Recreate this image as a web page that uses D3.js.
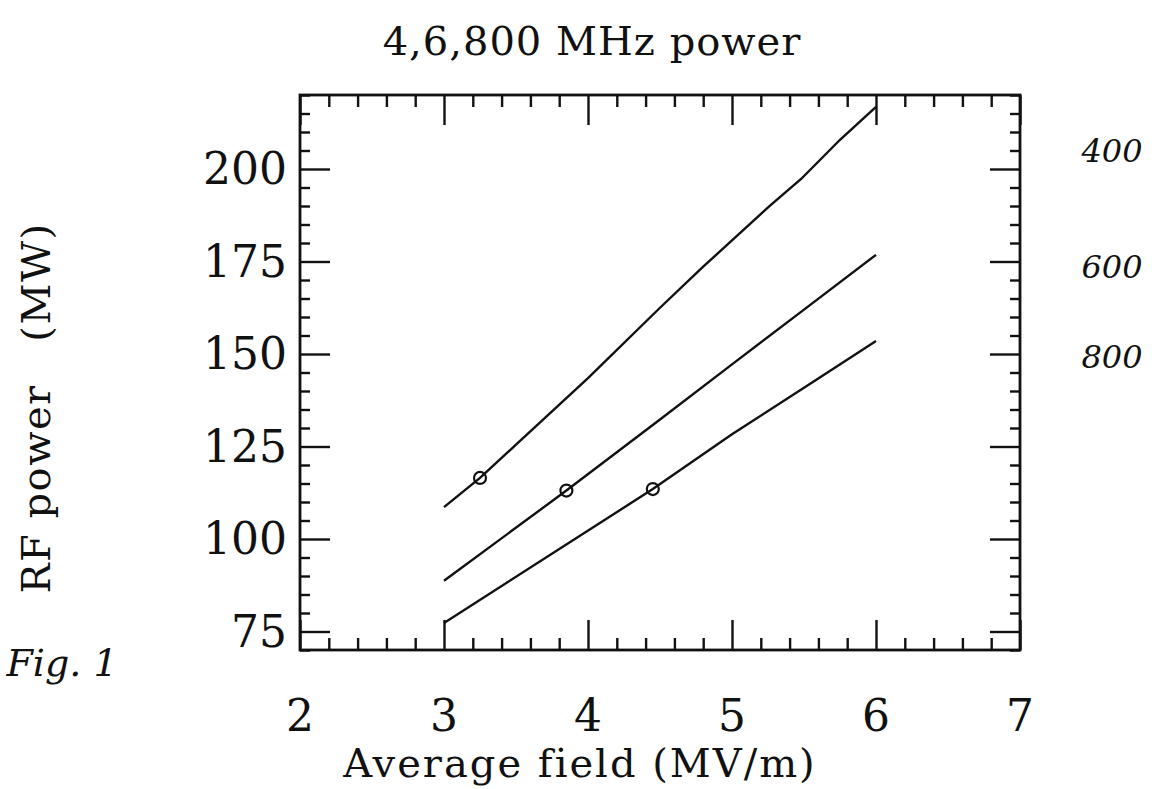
<!DOCTYPE html>
<html>
<head>
<meta charset="utf-8">
<script src="https://cdn.jsdelivr.net/npm/d3@7"></script>
<style>
  body { margin: 0; background: #fff; }
  text { font-family: "DejaVu Serif", serif; fill: #111; }
</style>
</head>
<body>
<svg id="chart"></svg>
<script>
// curves: average field (MV/m) vs RF power (MW)
var line400 = [[3.0, 108.6], [3.25, 116.5], [3.5, 125.5], [4.0, 143.5], [4.5, 162.5], [4.8, 173.6], [5.27, 190.3], [5.48, 197.3], [5.75, 207.9], [6.0, 216.8]];
var line600 = [[3.0, 88.7], [3.85, 113.1], [4.5, 132.3], [5.0, 147.2], [5.5, 162.0], [6.0, 176.8]];
var line800 = [[3.0, 77.3], [4.45, 113.5], [5.0, 128.3], [5.5, 140.9], [6.0, 153.5]];
var markers = [[3.25, 116.5], [3.85, 113.1], [4.45, 113.5]];

var xTicks = [2, 3, 4, 5, 6, 7];
var yTicks = [75, 100, 125, 150, 175, 200];
var curveLabels = ["400", "600", "800"];

var svgWidth = 1175, svgHeight = 789;
var plotLeft = 300, plotRight = 1020, plotTop = 95, plotBottom = 650;
var noteY = [162, 278, 368];

var svg = d3.select('#chart')
    .attr("width", svgWidth)
    .attr("height", svgHeight);

var xScale = d3.scaleLinear().domain([2, 7]).range([plotLeft, plotRight]);
var yScale = d3.scaleLinear().domain([70, 220]).range([plotBottom, plotTop]);

var xMinor = d3.range(2, 7.001, 0.2).filter(function(d) { return Math.abs(d - Math.round(d)) > 0.01; });
var yMinor = d3.range(70, 220.001, 5).filter(function(d) { return d % 25 != 0; });

function drawAxis(axis, tx, ty) {
    var g = svg.append("g").attr("transform", "translate(" + tx + "," + ty + ")").call(axis);
    g.select(".domain").remove();
    g.selectAll("line").attr("stroke", "#111").attr("stroke-width", 2.4);
    g.selectAll("text").remove();
    return g;
}

// major and minor ticks, pointing inward on all four sides
drawAxis(d3.axisBottom(xScale).tickValues(xTicks).tickSize(-30), 0, plotBottom);
drawAxis(d3.axisBottom(xScale).tickValues(xMinor).tickSize(-12), 0, plotBottom);
drawAxis(d3.axisTop(xScale).tickValues(xTicks).tickSize(-30), 0, plotTop);
drawAxis(d3.axisTop(xScale).tickValues(xMinor).tickSize(-12), 0, plotTop);
drawAxis(d3.axisLeft(yScale).tickValues(yTicks).tickSize(-30), plotLeft, 0);
drawAxis(d3.axisLeft(yScale).tickValues(yMinor).tickSize(-10), plotLeft, 0);
drawAxis(d3.axisRight(yScale).tickValues(yTicks).tickSize(-30), plotRight, 0);
drawAxis(d3.axisRight(yScale).tickValues(yMinor).tickSize(-10), plotRight, 0);

svg.append("rect")
    .attr("x", plotLeft).attr("y", plotTop)
    .attr("width", plotRight - plotLeft).attr("height", plotBottom - plotTop)
    .attr("fill", "none").attr("stroke", "#111").attr("stroke-width", 2.8);

// tick labels
svg.selectAll(".xlab")
    .data(xTicks)
    .enter()
    .append("text")
    .attr("class", "xlab")
    .attr("x", function(d) { return xScale(d); })
    .attr("y", 731)
    .attr("text-anchor", "middle")
    .attr("font-size", 44)
    .text(function(d) { return d; });

svg.selectAll(".ylab")
    .data(yTicks)
    .enter()
    .append("text")
    .attr("class", "ylab")
    .attr("x", 287)
    .attr("y", function(d) { return yScale(d) + 15; })
    .attr("text-anchor", "end")
    .attr("font-size", 44)
    .text(function(d) { return d; });

// curves
var line = d3.line()
    .x(function(d) { return xScale(d[0]); })
    .y(function(d) { return yScale(d[1]); });

svg.selectAll(".curve")
    .data([line400, line600, line800])
    .enter()
    .append("path")
    .attr("class", "curve")
    .attr("d", line)
    .attr("fill", "none")
    .attr("stroke", "#111")
    .attr("stroke-width", 2.4);

svg.selectAll(".marker")
    .data(markers)
    .enter()
    .append("circle")
    .attr("class", "marker")
    .attr("cx", function(d) { return xScale(d[0]); })
    .attr("cy", function(d) { return yScale(d[1]); })
    .attr("r", 6)
    .attr("fill", "none")
    .attr("stroke", "#111")
    .attr("stroke-width", 2.2);

// titles
svg.append("text")
    .attr("x", 592).attr("y", 55)
    .attr("text-anchor", "middle")
    .attr("font-size", 40)
    .attr("letter-spacing", 1)
    .text("4,6,800 MHz power");

svg.append("text")
    .attr("x", 580).attr("y", 777)
    .attr("text-anchor", "middle")
    .attr("font-size", 40)
    .attr("letter-spacing", 2)
    .text("Average field (MV/m)");

svg.append("text")
    .attr("transform", "translate(50,408) rotate(-90)")
    .attr("text-anchor", "middle")
    .attr("font-size", 40)
    .attr("letter-spacing", 1.5)
    .style("white-space", "pre")
    .text("RF power   (MW)");

// handwritten notes
svg.selectAll(".note")
    .data(curveLabels)
    .enter()
    .append("text")
    .attr("class", "note")
    .attr("x", 1112)
    .attr("y", function(d, i) { return noteY[i]; })
    .attr("text-anchor", "middle")
    .attr("font-size", 32)
    .attr("font-style", "italic")
    .text(function(d) { return d; });

svg.append("text")
    .attr("x", 62).attr("y", 676)
    .attr("text-anchor", "middle")
    .attr("font-size", 38)
    .attr("font-style", "italic")
    .text("Fig. 1");
</script>
</body>
</html>
